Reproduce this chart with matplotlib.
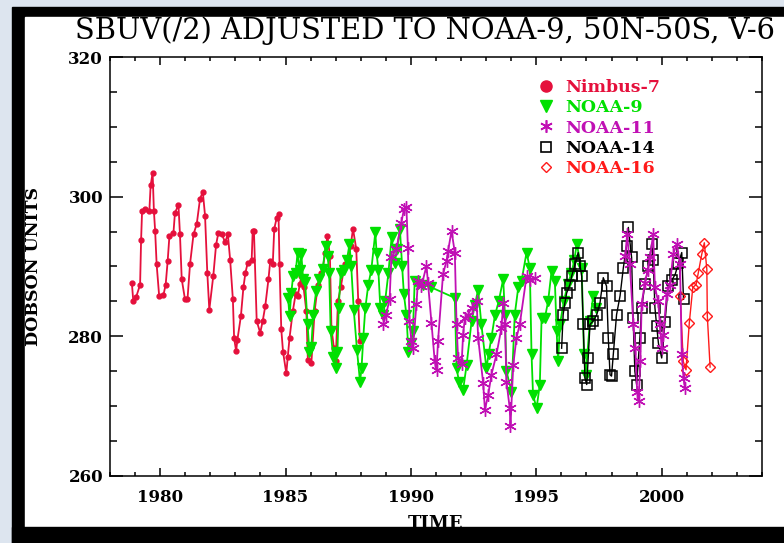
import numpy as np
import matplotlib.pyplot as plt
from matplotlib.patches import Rectangle
from matplotlib.lines import Line2D
from matplotlib.ticker import MultipleLocator

plt.rcParams['font.family'] = ['DejaVu Serif']

# Nimbus-7 monthly means
n7_year = [1978.87, 1978.93, 1979.04, 1979.20, 1979.24, 1979.28, 1979.40, 1979.57, 1979.62, 1979.70,
           1979.75, 1979.80, 1979.86, 1979.96, 1980.13, 1980.22, 1980.30, 1980.37, 1980.53, 1980.59,
           1980.73, 1980.79, 1980.86, 1980.99, 1981.09, 1981.19, 1981.33, 1981.46, 1981.59, 1981.70,
           1981.79, 1981.88, 1981.96, 1982.12, 1982.23, 1982.32, 1982.46, 1982.59, 1982.70, 1982.79,
           1982.90, 1982.95, 1983.03, 1983.08, 1983.22, 1983.32, 1983.40, 1983.49, 1983.65, 1983.69,
           1983.74, 1983.85, 1983.99, 1984.09, 1984.19, 1984.32, 1984.39, 1984.49, 1984.55, 1984.65,
           1984.72, 1984.76, 1984.83, 1984.90, 1985.03, 1985.09, 1985.16, 1985.29, 1985.40, 1985.49,
           1985.57, 1985.63, 1985.72, 1985.83, 1985.89, 1986.03, 1986.16, 1986.29, 1986.40, 1986.49,
           1986.58, 1986.67, 1986.77, 1986.83, 1986.93, 1987.00, 1987.09, 1987.20, 1987.36, 1987.50,
           1987.60, 1987.69, 1987.82, 1987.90, 1987.96]
n7_du = [287.7, 285.0, 285.6, 287.4, 293.8, 298.0, 298.2, 298.0, 301.6, 303.4,
         298.0, 295.1, 290.3, 285.8, 285.9, 287.4, 290.8, 294.4, 294.8, 297.7,
         298.8, 294.6, 288.2, 285.3, 285.3, 290.3, 294.6, 296.1, 299.7, 300.7,
         297.3, 289.1, 283.8, 288.7, 293.1, 294.8, 294.6, 293.5, 294.6, 291.0,
         285.3, 279.7, 277.9, 279.5, 282.9, 287.0, 289.1, 290.5, 291.0, 295.1,
         295.1, 282.2, 280.5, 282.2, 284.3, 288.2, 290.8, 290.3, 295.4, 297.0,
         297.5, 290.3, 281.0, 277.8, 274.7, 277.1, 279.8, 283.6, 286.0, 285.8,
         287.5, 288.6, 287.0, 283.6, 276.6, 276.2, 283.6, 287.4, 289.0, 289.8,
         292.0, 294.4, 291.5, 281.2, 278.3, 276.5, 285.0, 287.0, 290.3, 291.0,
         293.0, 295.4, 292.5, 285.0, 279.3]

# NOAA-9
n9_year = [1985.10, 1985.16, 1985.23, 1985.30, 1985.40, 1985.48, 1985.56, 1985.63, 1985.70, 1985.78,
           1985.88, 1985.95, 1986.03, 1986.10, 1986.22, 1986.35, 1986.48, 1986.60, 1986.68, 1986.74,
           1986.80, 1986.90, 1987.00, 1987.07, 1987.12, 1987.20, 1987.32, 1987.45, 1987.55, 1987.62,
           1987.72, 1987.85, 1987.97, 1988.03, 1988.10, 1988.18, 1988.30, 1988.42, 1988.58, 1988.63,
           1988.70, 1988.78, 1988.90, 1988.97, 1989.10, 1989.23, 1989.35, 1989.45, 1989.56, 1989.65,
           1989.72, 1989.82, 1989.90, 1990.00, 1990.08, 1990.15, 1990.30, 1990.48, 1990.82, 1991.75,
           1991.82, 1991.92, 1992.08, 1992.22, 1992.42, 1992.55, 1992.68, 1992.81, 1993.01, 1993.10,
           1993.21, 1993.35, 1993.50, 1993.68, 1993.75, 1993.81, 1994.01, 1994.14, 1994.28, 1994.41,
           1994.61, 1994.74, 1994.81, 1994.87, 1995.01, 1995.14, 1995.21, 1995.34, 1995.47, 1995.61,
           1995.74, 1995.81, 1995.87, 1995.94, 1996.10, 1996.25, 1996.40, 1996.52, 1996.61, 1996.81,
           1996.90, 1996.97, 1997.14, 1997.27, 1997.40]
n9_du = [285.5, 282.9, 286.2, 288.6, 289.0, 292.0, 289.5, 291.8, 288.2, 287.8,
         281.7, 277.8, 278.5, 283.0, 286.5, 288.2, 289.6, 293.0, 291.5, 289.0,
         280.7, 277.1, 275.4, 277.8, 284.1, 289.1, 289.5, 291.0, 293.2, 290.0,
         283.8, 278.0, 273.5, 275.4, 279.8, 284.0, 287.4, 289.5, 294.9, 292.0,
         289.5, 284.1, 283.0, 285.0, 289.0, 294.2, 290.5, 292.5, 295.4, 290.0,
         286.0, 283.1, 277.8, 279.0, 280.7, 287.9, 287.5, 287.4, 287.0, 285.5,
         275.4, 273.5, 272.3, 275.9, 282.2, 284.5, 286.7, 281.7, 275.4, 277.5,
         279.8, 283.0, 285.0, 288.2, 283.0, 275.0, 272.1, 283.1, 287.0, 287.9,
         292.0, 289.8, 277.4, 271.6, 269.7, 273.1, 282.6, 282.6, 285.0, 289.4,
         287.9, 280.7, 276.4, 281.7, 285.0, 287.5, 289.0, 291.0, 293.2, 289.8,
         277.4, 274.5, 282.2, 285.8, 284.1]

# NOAA-11 (data gap 1995-1998)
n11_year = [1988.89, 1989.00, 1989.15, 1989.22, 1989.42, 1989.62, 1989.72, 1989.82, 1989.88, 1989.94,
            1990.02, 1990.08, 1990.22, 1990.28, 1990.42, 1990.62, 1990.68, 1990.82, 1990.95, 1991.02,
            1991.08, 1991.28, 1991.42, 1991.48, 1991.62, 1991.75, 1991.82, 1991.88, 1992.02, 1992.08,
            1992.15, 1992.28, 1992.42, 1992.62, 1992.68, 1992.88, 1992.95, 1993.08, 1993.21, 1993.41,
            1993.61, 1993.68, 1993.75, 1993.81, 1993.94, 1993.97, 1994.08, 1994.21, 1994.34, 1994.61,
            1994.74, 1994.94, np.nan,
            1998.55, 1998.62, 1998.73, 1998.87, 1998.95, 1999.02, 1999.08, 1999.15, 1999.20, 1999.33,
            1999.45, 1999.53, 1999.66, 1999.73, 1999.86, 1999.93, 2000.00, 2000.06, 2000.20, 2000.33,
            2000.46, 2000.60, 2000.73, 2000.80, 2000.87, 2000.93]
n11_du = [281.7, 283.0, 285.3, 291.3, 292.5, 296.3, 298.2, 298.5, 292.7, 282.2,
          279.3, 278.3, 284.6, 287.9, 287.2, 290.1, 287.7, 281.9, 276.4, 275.2,
          279.3, 288.9, 290.8, 292.2, 295.1, 292.0, 281.7, 276.9, 276.0, 280.2,
          282.6, 283.1, 284.1, 285.0, 279.8, 273.3, 269.5, 271.6, 274.5, 277.4,
          281.2, 284.8, 281.7, 273.5, 269.7, 267.1, 275.9, 279.8, 281.7, 288.6,
          288.1, 288.4, np.nan,
          291.5, 294.6, 290.3, 281.7, 278.3, 272.1, 270.8, 276.4, 284.6, 287.7,
          289.5, 291.3, 294.6, 287.0, 285.0, 281.7, 278.3, 280.2, 286.0, 287.4,
          291.8, 293.2, 290.3, 277.4, 274.0, 272.6]

# NOAA-14
n14_year = [1996.01, 1996.07, 1996.14, 1996.21, 1996.34, 1996.41, 1996.54, 1996.67, 1996.75, 1996.81,
            1996.87, 1996.94, 1997.01, 1997.07, 1997.14, 1997.27, 1997.41, 1997.54, 1997.67, 1997.80,
            1997.87, 1997.94, 1998.00, 1998.07, 1998.20, 1998.34, 1998.47, 1998.60, 1998.67, 1998.80,
            1998.86, 1998.93, 1999.00, 1999.13, 1999.20, 1999.33, 1999.47, 1999.60, 1999.66, 1999.73,
            1999.80, 1999.87, 2000.00, 2000.13, 2000.26, 2000.40, 2000.54, 2000.67, 2000.80, 2000.87]
n14_du = [278.3, 283.1, 284.8, 286.2, 287.4, 288.6, 290.3, 292.0, 290.0, 288.6,
          281.7, 274.0, 273.1, 276.9, 281.7, 282.2, 283.1, 284.8, 288.4, 287.2,
          279.8, 274.5, 274.3, 277.4, 283.1, 285.8, 289.8, 293.0, 295.6, 291.3,
          282.6, 275.0, 273.1, 279.8, 284.0, 287.5, 290.0, 293.2, 291.0, 284.1,
          281.5, 279.0, 276.9, 282.0, 287.2, 288.0, 288.9, 290.5, 292.0, 285.3]

# NOAA-16
n16_year = [2000.74, 2000.86, 2000.97, 2001.10, 2001.24, 2001.37, 2001.46, 2001.60, 2001.70, 2001.80,
            2001.82, 2001.93]
n16_du = [285.8, 276.4, 275.2, 281.9, 287.0, 287.4, 289.1, 291.8, 293.4, 289.6,
          282.9, 275.6]

C_N7 = '#e5103c'
C_N9 = '#00e000'
C_N11 = '#c010b4'
C_N14 = 'black'
C_N16 = '#ff1a1a'

W, H = 784, 543
fig = plt.figure(figsize=(W / 100, H / 100), dpi=100)
fig.patch.set_facecolor('#dde5ef')
# black frame + white panel, bottom strip covers the lower part of the TIME label
fig.add_artist(Rectangle((12 / W, 0), 1, 1 - 7 / H, transform=fig.transFigure,
                         color='black', zorder=-3))
fig.add_artist(Rectangle((25 / W, 16 / H), 1, 1 - 17 / H - 16 / H, transform=fig.transFigure,
                         color='white', zorder=-2))
fig.add_artist(Rectangle((12 / W, 0), 1, 16 / H, transform=fig.transFigure,
                         color='black', zorder=10))

ax = fig.add_axes([110 / W, 1 - 476 / H, (762 - 110) / W, (476 - 57) / H])
ax.set_facecolor('white')

ax.plot(n7_year, n7_du, color=C_N7, lw=1.3, marker='o', ms=3.5, mec=C_N7, mfc=C_N7)
ax.plot(n9_year, n9_du, color=C_N9, lw=1.3, marker='v', ms=7.5, mec=C_N9, mfc=C_N9)
ax.plot(n14_year, n14_du, color=C_N14, lw=1.0, marker='s', ms=7.5, mec=C_N14, mfc='none', mew=1.1)
ax.plot(n16_year, n16_du, color=C_N16, lw=1.0, marker='D', ms=5, mec=C_N16, mfc='none', mew=1.0)
ax.plot(n11_year, n11_du, color=C_N11, lw=1.3, marker=(6, 2, 0), ms=9, mec=C_N11, mew=1.0)

ax.set_xlim(1978, 2004)
ax.set_ylim(260, 320)
ax.xaxis.set_major_locator(MultipleLocator(5))
ax.xaxis.set_minor_locator(MultipleLocator(1))
ax.yaxis.set_major_locator(MultipleLocator(20))
ax.yaxis.set_minor_locator(MultipleLocator(5))
ax.tick_params(axis='both', which='both', direction='in', top=True, right=True,
               width=1.1, colors='black')
ax.tick_params(axis='x', which='major', length=6, pad=9, labelsize=12)
ax.tick_params(axis='x', which='minor', length=3)
ax.tick_params(axis='y', which='major', length=9.5, pad=5, labelsize=12)
ax.tick_params(axis='y', which='minor', length=4.7)
for lbl in ax.get_xticklabels() + ax.get_yticklabels():
    lbl.set_fontweight('bold')
for sp in ax.spines.values():
    sp.set_linewidth(1.1)

ax.set_xlabel('TIME', fontsize=13, fontweight='bold', labelpad=7)
ax.set_ylabel('DOBSON UNITS', fontsize=12.5, fontweight='bold', labelpad=19)

fig.text(75 / W, 1 - 31 / H, 'SBUV(/2) ADJUSTED TO NOAA-9, 50N-50S, V-6',
         fontsize=20.8, ha='left', va='center')

handles = [
    Line2D([], [], ls='none', marker='o', ms=8, color=C_N7),
    Line2D([], [], ls='none', marker='v', ms=8, color=C_N9),
    Line2D([], [], ls='none', marker=(6, 2, 0), ms=9, color=C_N11, mew=1.2),
    Line2D([], [], ls='none', marker='s', ms=7, color=C_N14, mfc='none', mew=1.2),
    Line2D([], [], ls='none', marker='D', ms=5.5, color=C_N16, mfc='none', mew=1.0),
]
labels = ['Nimbus-7', 'NOAA-9', 'NOAA-11', 'NOAA-14', 'NOAA-16']
ax.legend(handles, labels, loc='upper left', bbox_to_anchor=(0.648, 0.965), frameon=False,
          handlelength=0.8, handletextpad=0.7, labelspacing=0.2, borderaxespad=0,
          labelcolor=[C_N7, C_N9, C_N11, C_N14, C_N16],
          prop={'family': 'DejaVu Serif', 'weight': 'bold', 'size': 12.5})

fig.savefig('out.png', dpi=100, facecolor=fig.get_facecolor())
